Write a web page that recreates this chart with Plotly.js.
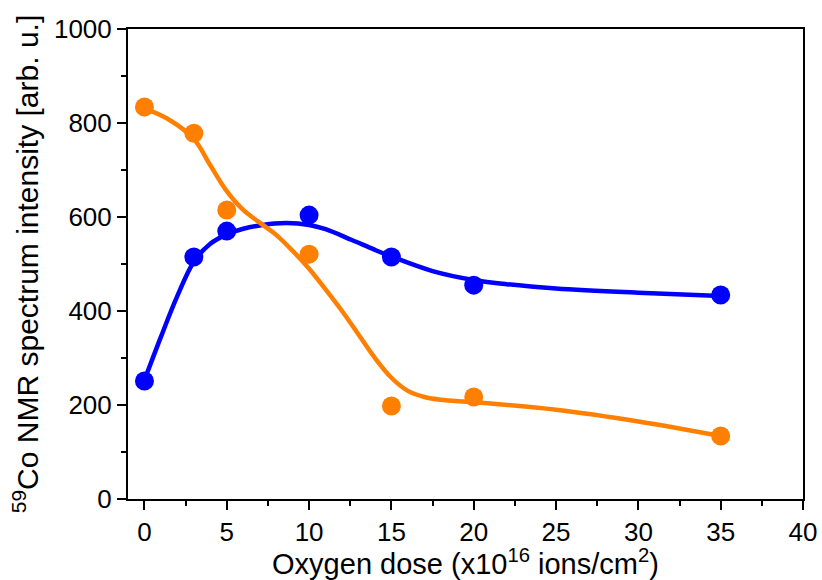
<!DOCTYPE html>
<html>
<head>
<meta charset="utf-8">
<script src="https://cdn.plot.ly/plotly-3.0.1.min.js"></script>
<style>html,body{margin:0;padding:0;background:#fff;}#chart{width:822px;height:580px;}</style>
</head>
<body>
<div id="chart"></div>
<script>
// Measured data points
var dose = [0, 3, 5, 10, 15, 20, 35];
var blueValues = [251, 515, 570, 604, 515, 455, 434];
var orangeValues = [834, 778, 615, 521, 198, 217, 134];

// Smooth fitted curves
var blueFitX = [0, 1, 2, 3, 4, 5, 6, 7, 8.6, 10, 11, 12.6, 14, 15, 17.5, 20, 22, 25, 30, 35];
var blueFitY = [253, 345, 432, 505, 543, 563, 575, 582, 587, 583, 574, 551, 530, 516, 485, 466, 457, 448, 439, 432];
var orangeFitX = [0, 1.5, 3, 4, 5, 6, 7, 8, 9, 10, 11, 12, 13, 14, 15, 16, 17, 18, 20, 25, 30, 35];
var orangeFitY = [831, 807, 766, 710, 655, 615, 588, 562, 528, 490, 446, 400, 350, 300, 258, 230, 217, 211, 206, 190, 165, 134];

var blue = '#0000FF';
var orange = '#FF8000';

var traces = [
  {x: blueFitX, y: blueFitY, mode: 'lines', line: {color: blue, width: 4.5, shape: 'spline', smoothing: 1}, hoverinfo: 'skip'},
  {x: orangeFitX, y: orangeFitY, mode: 'lines', line: {color: orange, width: 4.5, shape: 'spline', smoothing: 1}, hoverinfo: 'skip'},
  {x: dose, y: blueValues, mode: 'markers', marker: {color: blue, size: 19}},
  {x: dose, y: orangeValues, mode: 'markers', marker: {color: orange, size: 19}}
];

var fam = 'Liberation Sans, Arial, sans-serif';
var tickFont = {family: fam, size: 26, color: '#000'};
var xTitleFont = {family: fam, size: 29, color: '#000'};
var yTitleFont = {family: fam, size: 30, color: '#000'};

var layout = {
  width: 822, height: 580,
  margin: {l: 128, r: 19, t: 29, b: 81},
  paper_bgcolor: '#fff', plot_bgcolor: '#fff',
  showlegend: false,
  font: tickFont,
  xaxis: {
    range: [-1, 40], tickvals: [0,5,10,15,20,25,30,35,40],
    ticks: 'outside', ticklen: 9, tickwidth: 2, tickcolor: '#000',
    minor: {tickvals: [2.5,7.5,12.5,17.5,22.5,27.5,32.5,37.5], ticks: 'outside', ticklen: 5, tickwidth: 2, tickcolor: '#000'},
    showline: true, linewidth: 2, linecolor: '#000', mirror: true,
    showgrid: false, zeroline: false,
    tickfont: tickFont,
    title: {text: 'Oxygen dose (x10<sup>16</sup> ions/cm<sup>2</sup>)', font: xTitleFont, standoff: 10}
  },
  yaxis: {
    range: [0, 1000], tickvals: [0,200,400,600,800,1000],
    ticks: 'outside', ticklen: 9, tickwidth: 2, tickcolor: '#000',
    minor: {tickvals: [100,300,500,700,900], ticks: 'outside', ticklen: 5, tickwidth: 2, tickcolor: '#000'},
    showline: true, linewidth: 2, linecolor: '#000', mirror: true,
    showgrid: false, zeroline: false,
    tickfont: tickFont,
    title: {text: '<sup>59</sup>Co NMR spectrum intensity [arb. u.]', font: yTitleFont, standoff: 6}
  }
};

Plotly.newPlot('chart', traces, layout, {displayModeBar: false, staticPlot: true});
</script>
</body>
</html>
